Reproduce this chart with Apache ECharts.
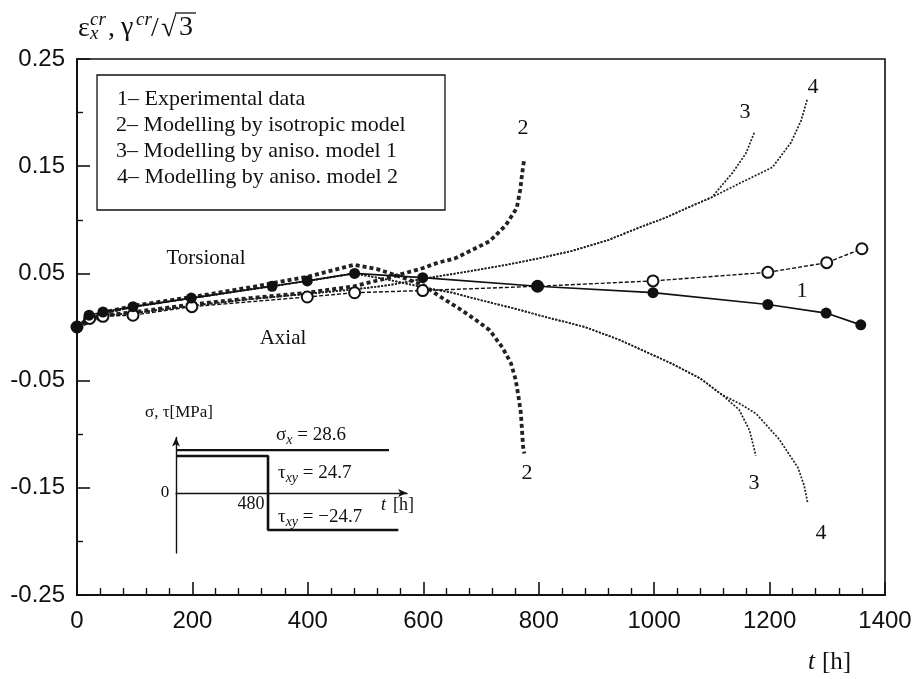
<!DOCTYPE html>
<html><head><meta charset="utf-8">
<script src="https://cdn.jsdelivr.net/npm/echarts@6/dist/echarts.min.js"></script>
<style>html,body{margin:0;padding:0;background:#fff}#c{width:921px;height:679px}</style>
</head><body><div id="c"></div>
<script>
// ---- Experimental data (1) ----
const expTorsT = [0, 21, 45, 97, 198, 338, 399, 481, 599, 798, 998, 1197, 1298, 1358];
const expTorsV = [0, 0.011, 0.014, 0.019, 0.027, 0.038, 0.043, 0.050, 0.046, 0.038, 0.032, 0.021, 0.013, 0.002];
const expAxT = [0, 22, 45, 97, 199, 399, 481, 599, 798, 998, 1197, 1299, 1360];
const expAxV = [0, 0.008, 0.010, 0.011, 0.019, 0.028, 0.032, 0.034, 0.038, 0.043, 0.051, 0.060, 0.073];
// ---- Model 2 (isotropic) ----
const m2TorsT = [0, 50, 100, 200, 300, 400, 480, 520, 560, 600, 630, 660, 690, 715, 737, 752, 760, 765, 769, 771, 773, 775];
const m2TorsV = [0, 0.014, 0.020, 0.028, 0.037, 0.047, 0.058, 0.054, 0.047, 0.039, 0.028, 0.018, 0.007, -0.003, -0.019, -0.034, -0.049, -0.065, -0.080, -0.096, -0.112, -0.118];
const m2AxT = [0, 50, 100, 200, 300, 400, 480, 540, 600, 625, 655, 685, 715, 743, 762, 768, 771, 775];
const m2AxV = [0, 0.011, 0.014, 0.021, 0.027, 0.032, 0.038, 0.046, 0.055, 0.060, 0.064, 0.072, 0.080, 0.095, 0.111, 0.128, 0.142, 0.157];
// ---- Model 3 (aniso. model 1) ----
const m3TorsT = [0, 50, 100, 200, 300, 400, 480, 540, 600, 650, 700, 767, 800, 880, 940, 1030, 1080, 1117, 1147, 1165, 1174, 1176];
const m3TorsV = [0, 0.013, 0.019, 0.027, 0.035, 0.043, 0.050, 0.044, 0.037, 0.032, 0.025, 0.016, 0.011, 0.0, -0.012, -0.034, -0.048, -0.063, -0.077, -0.096, -0.115, -0.120];
const m3AxT = [0, 50, 100, 200, 300, 400, 480, 540, 600, 680, 744, 800, 858, 920, 975, 1020, 1061, 1100, 1136, 1159, 1174];
const m3AxV = [0, 0.011, 0.013, 0.020, 0.026, 0.031, 0.035, 0.039, 0.045, 0.052, 0.058, 0.064, 0.071, 0.081, 0.093, 0.102, 0.112, 0.121, 0.144, 0.162, 0.182];
// ---- Model 4 (aniso. model 2) ----
const m4TorsT = [0, 50, 100, 200, 300, 400, 480, 540, 600, 650, 700, 767, 800, 880, 940, 1030, 1080, 1117, 1150, 1177, 1217, 1249, 1260, 1266];
const m4TorsV = [0, 0.013, 0.019, 0.027, 0.035, 0.043, 0.050, 0.044, 0.037, 0.032, 0.025, 0.016, 0.011, 0.0, -0.012, -0.034, -0.048, -0.063, -0.072, -0.081, -0.105, -0.131, -0.148, -0.164];
const m4AxT = [0, 50, 100, 200, 300, 400, 480, 540, 600, 680, 744, 800, 858, 920, 975, 1020, 1061, 1100, 1148, 1205, 1237, 1255, 1265];
const m4AxV = [0, 0.011, 0.013, 0.020, 0.026, 0.031, 0.035, 0.039, 0.045, 0.052, 0.058, 0.064, 0.071, 0.081, 0.093, 0.102, 0.112, 0.121, 0.134, 0.149, 0.172, 0.193, 0.212];
// ---- Inset: loading history ----
const sigmaT = [0, 1111];
const sigmaV = [28.6, 28.6];
const tauT = [0, 480, 480, 1160];
const tauV = [24.7, 24.7, -24.7, -24.7];
// ---- Axis ticks ----
const xTicks = {min: 0, max: 1400, interval: 200};
const yTicks = {min: -0.25, max: 0.25, interval: 0.1};
const legendLines = ['1\u2013 Experimental data', '2\u2013 Modelling by isotropic model', '3\u2013 Modelling by aniso. model 1', '4\u2013 Modelling by aniso. model 2'];

function pairs(t, v) { return t.map((x, i) => [x, v[i]]); }
const SERIF = 'Liberation Serif';
const SANS = 'Liberation Sans';

const chart = echarts.init(document.getElementById('c'), null, {renderer: 'canvas'});

function modelSeries(t, v, style) {
  return {type: 'line', xAxisIndex: 0, yAxisIndex: 0, data: pairs(t, v), symbol: 'none', silent: true,
    lineStyle: style, z: 2, animation: false};
}
const m2Style = {color: '#222', width: 3.8, type: [4, 3]};
const m34Style = {color: '#222', width: 1.7, type: [2, 1.5]};

function txt(x, y, text, size, extra) {
  return Object.assign({type: 'text', x: x, y: y, z: 20, silent: true,
    style: Object.assign({text: text, fontSize: size, fontFamily: SERIF, fill: '#111', align: 'left', verticalAlign: 'middle'}, extra || {})});
}
function subText(x, y, main, sub, rest) {
  return {type: 'text', x: x, y: y, z: 20, silent: true, style: {text: '{a|' + main + '}{s|' + sub + '}{a|' + rest + '}', verticalAlign: 'middle',
    rich: {a: {fontSize: 19, fontFamily: SERIF, fill: '#111', lineHeight: 24, verticalAlign: 'middle'},
           s: {fontSize: 14, fontFamily: SERIF, fontStyle: 'italic', fill: '#111', lineHeight: 14, verticalAlign: 'bottom'}}}};
}

const graphics = [
  {type: 'rect', shape: {x: 97, y: 75, width: 348, height: 135}, style: {fill: '#fff', stroke: '#111', lineWidth: 1.3}, z: 10},
  txt(117, 99, legendLines[0], 22),
  txt(116, 125, legendLines[1], 22),
  txt(116, 151, legendLines[2], 22),
  txt(117, 177, legendLines[3], 22),
  // y-axis title
  txt(78, 43, '\u03b5', 28, {verticalAlign: 'bottom'}),
  txt(90, 29, 'cr', 19, {verticalAlign: 'bottom', fontStyle: 'italic'}),
  txt(90, 43, 'x', 19, {verticalAlign: 'bottom', fontStyle: 'italic'}),
  txt(108, 43, ',', 28, {verticalAlign: 'bottom'}),
  txt(121, 42, '\u03b3', 28, {verticalAlign: 'bottom'}),
  txt(136, 29, 'cr', 19, {verticalAlign: 'bottom', fontStyle: 'italic'}),
  txt(151, 43, '/', 28, {verticalAlign: 'bottom'}),
  txt(161, 43, '\u221a', 28, {verticalAlign: 'bottom'}),
  txt(179, 42, '3', 28, {verticalAlign: 'bottom'}),
  {type: 'line', shape: {x1: 175, y1: 13, x2: 196, y2: 13}, style: {stroke: '#111', lineWidth: 1.3}, z: 20},
  // x-axis title
  txt(808, 662, 't', 25, {fontStyle: 'italic'}),
  txt(822, 662, '[h]', 25),
  // curve annotations
  txt(206, 258, 'Torsional', 21, {align: 'center'}),
  txt(283, 338, 'Axial', 21, {align: 'center'}),
  txt(802, 291, '1', 22, {align: 'center'}),
  txt(523, 128, '2', 22, {align: 'center'}),
  txt(527, 473, '2', 22, {align: 'center'}),
  txt(745, 112, '3', 22, {align: 'center'}),
  txt(754, 483, '3', 22, {align: 'center'}),
  txt(813, 87, '4', 22, {align: 'center'}),
  txt(821, 533, '4', 22, {align: 'center'}),
  // inset texts
  txt(179, 413, '\u03c3, \u03c4[MPa]', 17, {align: 'center'}),
  txt(165, 493, '0', 17, {align: 'center'}),
  txt(251, 504, '480', 18, {align: 'center'}),
  txt(381, 505, 't', 18, {fontStyle: 'italic'}),
  txt(393, 505, '[h]', 18),
  subText(276, 435, '\u03c3', 'x', ' = 28.6'),
  subText(278, 473, '\u03c4', 'xy', ' = 24.7'),
  subText(278, 517, '\u03c4', 'xy', ' = \u221224.7')
];

const option = {
  backgroundColor: '#fff',
  animation: false,
  grid: [
    {left: 77, right: 36, top: 59, bottom: 84, show: true, borderColor: '#111', borderWidth: 1.6, backgroundColor: 'transparent'},
    {left: 176, width: 231, top: 437.5, height: 115.5, show: false}
  ],
  xAxis: [
    {type: 'value', gridIndex: 0, min: xTicks.min, max: xTicks.max, interval: xTicks.interval,
      axisLine: {show: true, onZero: false, lineStyle: {color: '#111', width: 2}},
      axisTick: {show: true, inside: true, length: 13, lineStyle: {color: '#111', width: 1.6}},
      minorTick: {show: true, splitNumber: 5, length: 7, lineStyle: {color: '#111', width: 1.4}},
      axisLabel: {fontSize: 24, fontFamily: SANS, color: '#111', margin: 14, formatter: v => String(Math.round(v))},
      splitLine: {show: false}},
    {type: 'value', gridIndex: 1, min: 0, max: 1205,
      axisLine: {show: true, onZero: true, symbol: ['none', 'arrow'], symbolSize: [6, 9], lineStyle: {color: '#111', width: 1.4}},
      axisTick: {show: false}, axisLabel: {show: false}, splitLine: {show: false}}
  ],
  yAxis: [
    {type: 'value', gridIndex: 0, min: yTicks.min, max: yTicks.max, interval: yTicks.interval,
      axisLine: {show: true, onZero: false, lineStyle: {color: '#111', width: 2}},
      axisTick: {show: true, inside: true, length: 13, lineStyle: {color: '#111', width: 1.6}},
      minorTick: {show: true, splitNumber: 2, length: 6, lineStyle: {color: '#111', width: 1.4}},
      axisLabel: {fontSize: 24, fontFamily: SANS, color: '#111', margin: 12, formatter: v => v.toFixed(2)},
      splitLine: {show: false}},
    {type: 'value', gridIndex: 1, min: -40, max: 37,
      axisLine: {show: true, onZero: false, symbol: ['none', 'arrow'], symbolSize: [6, 9], lineStyle: {color: '#111', width: 1.4}},
      axisTick: {show: false}, axisLabel: {show: false}, splitLine: {show: false}}
  ],
  graphic: graphics,
  series: [
    modelSeries(m2TorsT, m2TorsV, m2Style),
    modelSeries(m2AxT, m2AxV, m2Style),
    modelSeries(m3TorsT, m3TorsV, m34Style),
    modelSeries(m3AxT, m3AxV, m34Style),
    modelSeries(m4TorsT, m4TorsV, m34Style),
    modelSeries(m4AxT, m4AxV, m34Style),
    {type: 'line', name: 'Axial', xAxisIndex: 0, yAxisIndex: 0, data: pairs(expAxT, expAxV), z: 5,
      symbol: 'emptyCircle', symbolSize: 11, itemStyle: {color: '#111', borderWidth: 1.2}, lineStyle: {color: '#111', width: 1.4, type: [4, 2]}},
    {type: 'line', name: 'Torsional', xAxisIndex: 0, yAxisIndex: 0, data: pairs(expTorsT, expTorsV), z: 6,
      symbol: 'circle', symbolSize: 11, itemStyle: {color: '#111'}, lineStyle: {color: '#111', width: 1.7}},
    {type: 'line', xAxisIndex: 1, yAxisIndex: 1, data: pairs(sigmaT, sigmaV), symbol: 'none', lineStyle: {color: '#111', width: 2.4}},
    {type: 'line', xAxisIndex: 1, yAxisIndex: 1, data: pairs(tauT, tauV), symbol: 'none', lineStyle: {color: '#111', width: 2.6}}
  ]
};
chart.setOption(option);
</script>
</body></html>
